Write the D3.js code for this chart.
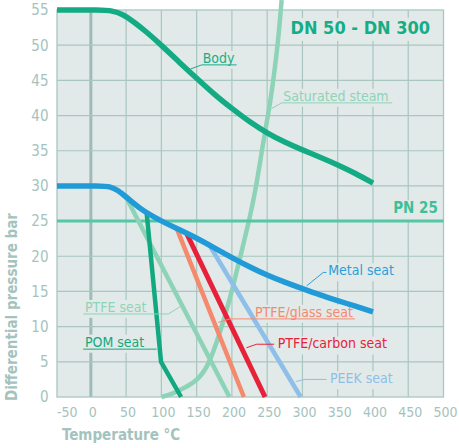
<!DOCTYPE html>
<meta charset="utf-8">
<style>
  body { margin: 0; background: #fff; }
  text { font-family: "DejaVu Sans Condensed", "DejaVu Sans", sans-serif; }
</style>
<body>
<div id="chart"></div>
<script src="https://cdn.jsdelivr.net/npm/d3@7/dist/d3.min.js"></script>
<script>

var width = 459,
    height = 448;

var xTicks = [-50, 0, 50, 100, 150, 200, 250, 300, 350, 400, 450, 500];
var yTicks = [0, 5, 10, 15, 20, 25, 30, 35, 40, 45, 50, 55];

// [temperature °C, differential pressure bar]
var bodyCurve = [[-48, 55], [15, 55], [30, 54.9], [45, 54.4], [60, 53.4], [80, 51.8], [100, 50],
    [125, 47.6], [150, 45.3], [175, 43.0], [200, 41.0], [225, 39.1], [250, 37.5], [275, 36.2],
    [300, 35.1], [325, 34.1], [350, 33.0], [375, 31.8], [400, 30.4]];
var steamCurve = [[100, 0], [115, 0.4], [127, 1], [140, 1.7], [150, 2.4], [165, 4], [183, 9], [200, 15],
    [212, 20], [225, 25.3], [234, 29.6], [244.5, 36.3], [254, 41.6], [260, 46], [265.7, 50.7], [270.5, 56.4]];
var metalSeat = [[-48, 30], [15, 30], [28, 29.9], [38, 29.4], [48, 28.6], [60, 27.6], [75, 26.4],
    [100, 25], [125, 23.8], [150, 22.6], [175, 21.2], [200, 19.8], [225, 18.5], [250, 17.3],
    [275, 16.3], [300, 15.4], [325, 14.5], [350, 13.7], [375, 12.9], [400, 12.1]];
var ptfeSeat = [[50, 28.4], [196.5, 0]];
var pomSeat = [[79, 26.3], [99.5, 5], [128, 0]];
var glassSeat = [[122, 23.9], [217, 0]];
var carbonSeat = [[136, 23.2], [247, 0]];
var peekSeat = [[168, 21.6], [297.5, 0]];
var pnLimit = 25;

var seriesNames = ['Body', 'Saturated steam', 'Metal seat', 'PTFE/glass seat',
    'PTFE/carbon seat', 'PEEK seat', 'PTFE seat', 'POM seat'];
var titleText = 'DN 50 - DN 300',
    pnText = 'PN 25',
    xTitle = 'Temperature °C',
    yTitle = 'Differential pressure bar';

var bg = '#e1eae8',
    grid_color = '#a9c6c1',
    axis_text = '#a4c3be';

var x = d3.scaleLinear().domain([-48, 500]).range([57, 443.5]);
var y = d3.scaleLinear().domain([0, 55]).range([397, 10]);

var svg = d3.select('#chart').append('svg')
    .attr('width', width)
    .attr('height', height);

svg.append('rect')
    .attr('x', x.range()[0]).attr('y', y.range()[1])
    .attr('width', x.range()[1] - x.range()[0])
    .attr('height', y.range()[0] - y.range()[1])
    .style('fill', bg);

// grid
var gridG = svg.append('g');
gridG.selectAll('.vx')
    .data(xTicks.filter(function(d) { return x(d) > x.range()[0] && x(d) < x.range()[1]; }))
  .enter().append('line')
    .attr('x1', function(d) { return x(d); })
    .attr('x2', function(d) { return x(d); })
    .attr('y1', y.range()[0]).attr('y2', y.range()[1])
    .style('stroke', function(d) { return d === 0 ? '#9ebcb7' : grid_color; })
    .style('stroke-width', function(d) { return d === 0 ? 3 : 1.2; });
gridG.selectAll('.hy')
    .data(yTicks.filter(function(d) { return d > 0 && d < 55; }))
  .enter().append('line')
    .attr('y1', function(d) { return y(d); })
    .attr('y2', function(d) { return y(d); })
    .attr('x1', x.range()[0]).attr('x2', x.range()[1])
    .style('stroke', grid_color)
    .style('stroke-width', 1.2);
gridG.append('rect')
    .attr('x', x.range()[0]).attr('y', y.range()[1])
    .attr('width', x.range()[1] - x.range()[0])
    .attr('height', y.range()[0] - y.range()[1])
    .style('fill', 'none')
    .style('stroke', grid_color)
    .style('stroke-width', 1.3);

// tick labels
svg.selectAll('.ytick')
    .data(yTicks)
  .enter().append('text')
    .attr('x', 48.5)
    .attr('y', function(d) { return y(d); })
    .attr('dy', '0.36em')
    .attr('text-anchor', 'end')
    .style('font-size', '15px')
    .style('fill', axis_text)
    .text(function(d) { return d; });
svg.selectAll('.xtick')
    .data(xTicks)
  .enter().append('text')
    .attr('x', function(d, i) { return i === 0 ? x.range()[0] : x(d) + 2; })
    .attr('y', 417)
    .attr('text-anchor', function(d, i) { return i === 0 ? 'start' : 'middle'; })
    .style('font-size', '14px')
    .style('fill', axis_text)
    .text(function(d) { return d; });

svg.append('text')
    .attr('x', 62).attr('y', 440)
    .style('font-size', '15px').style('font-weight', 'bold')
    .style('fill', axis_text)
    .text(xTitle);
svg.append('text')
    .attr('transform', 'translate(17,307) rotate(-90)')
    .attr('text-anchor', 'middle')
    .style('font-size', '15px').style('font-weight', 'bold')
    .style('fill', axis_text)
    .text(yTitle);

var bgLayer = svg.append('g'),
    lineLayer = svg.append('g'),
    textLayer = svg.append('g');

var line = d3.line()
    .x(function(d) { return x(d[0]); })
    .y(function(d) { return y(d[1]); });
var smooth = d3.line()
    .x(function(d) { return x(d[0]); })
    .y(function(d) { return y(d[1]); })
    .curve(d3.curveBasis);

lineLayer.append('path').datum(steamCurve)
    .attr('d', smooth)
    .style('fill', 'none').style('stroke', '#8dd3b8').style('stroke-width', 4.5);

lineLayer.append('line')
    .attr('x1', x.range()[0]).attr('x2', x.range()[1])
    .attr('y1', y(pnLimit)).attr('y2', y(pnLimit))
    .style('stroke', '#55c7a4').style('stroke-width', 3);

var seats = [
    {pts: ptfeSeat, color: '#8dd3b8', w: 4.5},
    {pts: pomSeat, color: '#12a981', w: 4.5},
    {pts: glassSeat, color: '#f5896e', w: 4.5},
    {pts: carbonSeat, color: '#e8213a', w: 5},
    {pts: peekSeat, color: '#8ebfe9', w: 4.5}
];
seats.forEach(function(s) {
    lineLayer.append('path').datum(s.pts)
        .attr('d', line)
        .style('fill', 'none').style('stroke', s.color)
        .style('stroke-width', s.w).style('stroke-linejoin', 'round');
});

lineLayer.append('path').datum(metalSeat)
    .attr('d', smooth)
    .style('fill', 'none').style('stroke', '#219bd8').style('stroke-width', 5.5);
lineLayer.append('path').datum(bodyCurve)
    .attr('d', smooth)
    .style('fill', 'none').style('stroke', '#13ab84').style('stroke-width', 5.5);

// labels with leader lines, positions in chart units
function note(label, color, at, opts) {
    var t = textLayer.append('text')
        .attr('x', x(at[0])).attr('y', y(at[1]))
        .attr('text-anchor', opts.anchor || 'start')
        .style('font-size', (opts.size || 14) + 'px')
        .style('font-weight', opts.bold ? 'bold' : 'normal')
        .style('fill', color)
        .text(label);
    var b = t.node().getBBox();
    bgLayer.append('rect')
        .attr('x', b.x - 2).attr('y', b.y + 1)
        .attr('width', b.width + 4).attr('height', b.height + 2)
        .style('fill', bg);
    if (opts.leader) {
        lineLayer.append('path').datum(opts.leader)
            .attr('d', line)
            .style('fill', 'none').style('stroke', color).style('stroke-width', 1);
    }
}

note(seriesNames[0], '#19ad87', [158.5, 47.5], {leader: [[141, 46.6], [157.1, 47.2], [206.7, 47.2]]});
note(seriesNames[1], '#8fd3b9', [272.7, 42.1], {leader: [[256.3, 41.0], [270.5, 41.8], [427.3, 41.8]]});
note(seriesNames[2], '#2a9ed8', [336.6, 17.3], {leader: [[306, 15.8], [329.5, 17.7], [334, 17.7]]});
note(seriesNames[3], '#f5896e', [232.7, 11.4], {leader: [[180.6, 10.6], [197.2, 11.1], [374.4, 11.1]]});
note(seriesNames[4], '#e8213a', [264.9, 6.9], {leader: [[220.6, 7.0], [235.1, 7.5], [260, 7.5]]});
note(seriesNames[5], '#8ebfe9', [339, 1.95], {leader: [[290.4, 2.2], [303.6, 2.5], [334.3, 2.5]]});
note(seriesNames[6], '#8fd3b9', [-8.4, 12.1], {leader: [[-10.8, 11.8], [109.7, 11.8], [131, 13.1]]});
note(seriesNames[7], '#12a981', [-8.4, 7.15], {leader: [[-10.8, 6.8], [93.3, 6.8]]});
note(titleText, '#15ad86', [481, 51.6], {anchor: 'end', size: 18, bold: true});
note(pnText, '#3fbf98', [492, 26.1], {anchor: 'end', size: 15, bold: true});

</script>
